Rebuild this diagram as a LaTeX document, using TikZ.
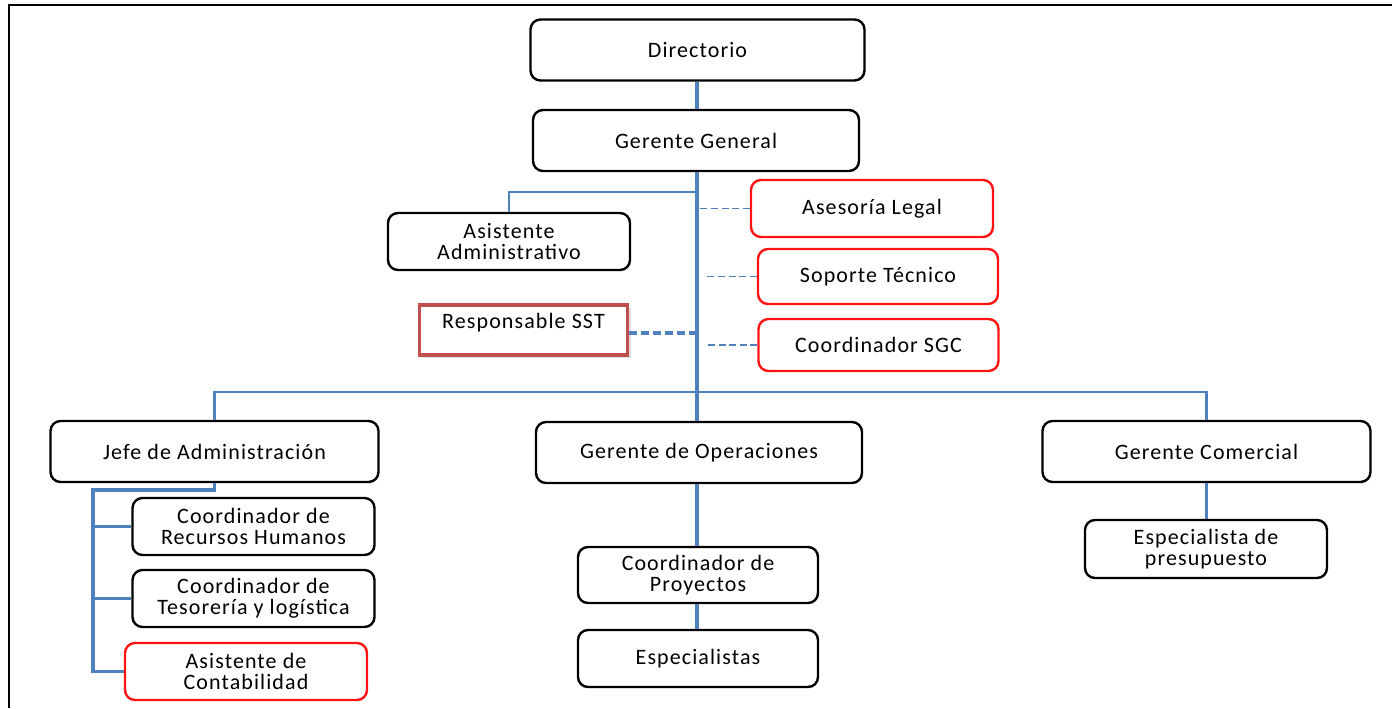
\documentclass[tikz,border=0pt]{standalone}
\usepackage{fontspec}
\setmainfont[LetterSpace=5]{Carlito}
\usepackage{tikz}
\usetikzlibrary{positioning, calc, shadows}
\definecolor{linkblue}{RGB}{79, 129, 189}
\definecolor{alertred}{RGB}{255, 20, 20}
\definecolor{sstred}{RGB}{192, 80, 77}
\newcommand{\boxfont}{\fontsize{11}{10.5}\selectfont}
\tikzset{
  bigbox/.style={rectangle, draw=black, fill=white, rounded corners=5pt, line width=1.2pt, minimum width=164pt, minimum height=30.5pt, align=center, font=\boxfont},
  smallbox/.style={rectangle, draw=#1, fill=white, rounded corners=5pt, line width=1.2pt, minimum width=121pt, minimum height=28.5pt, align=center, font=\boxfont},
  smallbox/.default=black,
  sstbox/.style={rectangle, draw=sstred, line width=1.6pt, fill=white, minimum width=104pt, minimum height=25pt, font=\boxfont, drop shadow={opacity=0.25, shadow xshift=1.5pt, shadow yshift=-1.5pt}},
  trunk/.style={draw=linkblue, line width=1.7pt},
  link/.style={draw=linkblue, line width=1.1pt},
  dashlink/.style={draw=linkblue, line width=0.9pt, dash pattern=on 3.5pt off 1.8pt},
  sstlink/.style={draw=linkblue, line width=2.2pt, dash pattern=on 4pt off 2pt},
}
\begin{document}
\begin{tikzpicture}[x=0.5pt, y=-0.5pt]
\useasboundingbox (0,0) rectangle (1392,708);
\draw[line width=1.2pt] (9,708) -- (9,5) -- (1392,5);

% top of the chart
\node[bigbox, minimum width=167pt] (dir) at (697.5,50) {Directorio};
\node[bigbox, minimum width=163pt] (gg) at (696,140.5) {Gerente General};
\node[smallbox] (asis) at (509,241.5) {Asistente\\Administrativo};
\node[smallbox=alertred] (legal) at (872,208.5) {Asesoría Legal};
\node[smallbox=alertred, minimum width=120pt, minimum height=27.5pt] (soporte) at (878,276.5) {Soporte Técnico};
\node[smallbox=alertred, minimum width=120pt, minimum height=26pt] (sgc) at (878.5,345) {Coordinador SGC};
\node[sstbox, text depth=9pt] (sst) at (523.5,330) {Responsable SST};

% second level
\node[bigbox] (jefe) at (214.5,451.5) {Jefe de Administración};
\node[bigbox, minimum width=163pt] (gop) at (699,452.5) {Gerente de Operaciones};
\node[bigbox] (gcom) at (1206.5,451.5) {Gerente Comercial};

% third level
\node[smallbox] (rrhh) at (253.5,526.5) {Coordinador de\\Recursos Humanos};
\node[smallbox] (teso) at (253.5,598.5) {Coordinador de\\Tesorería y logística};
\node[smallbox=alertred] (conta) at (246,671.5) {Asistente de\\Contabilidad};
\node[smallbox, minimum width=120pt, minimum height=28pt] (proy) at (698,575) {Coordinador de\\Proyectos};
\node[smallbox, minimum width=120pt] (esp) at (698,658.5) {Especialistas};
\node[smallbox, minimum height=29pt] (pres) at (1206,549) {Especialista de\\presupuesto};

\coordinate (tr) at (697,0);
\coordinate (bus) at (697,392);
\coordinate (jb) at (93,490);

% connectors
\draw[trunk] (dir.south -| tr) -- (gg.north -| tr);
\draw[trunk] (gg.south -| tr) -- (gop.north -| tr);
\draw[link] (tr |- 0,192) -| (asis.north);
\draw[dashlink] (legal.west) -- (legal.west -| tr);
\draw[dashlink] (soporte.west) -- ++(-53,0);
\draw[dashlink] (sgc.west) -- ++(-53,0);
\draw[sstlink] (sst.east |- 0,333) -- (tr |- 0,333);
\draw[link] (jefe.north) -- (jefe.north |- bus) -- (gcom.north |- bus) -- (gcom.north);
\draw[trunk] (jefe.south) -- (jefe.south |- jb) -- (jb) -- (jb |- conta.west) -- (conta.west);
\draw[trunk] (jb |- rrhh.west) -- (rrhh.west);
\draw[trunk] (jb |- teso.west) -- (teso.west);
\draw[trunk] (gop.south -| tr) -- (proy.north -| tr);
\draw[trunk] (proy.south -| tr) -- (esp.north -| tr);
\draw[trunk] (gcom.south) -- (gcom.south |- pres.north);
\end{tikzpicture}
\end{document}
